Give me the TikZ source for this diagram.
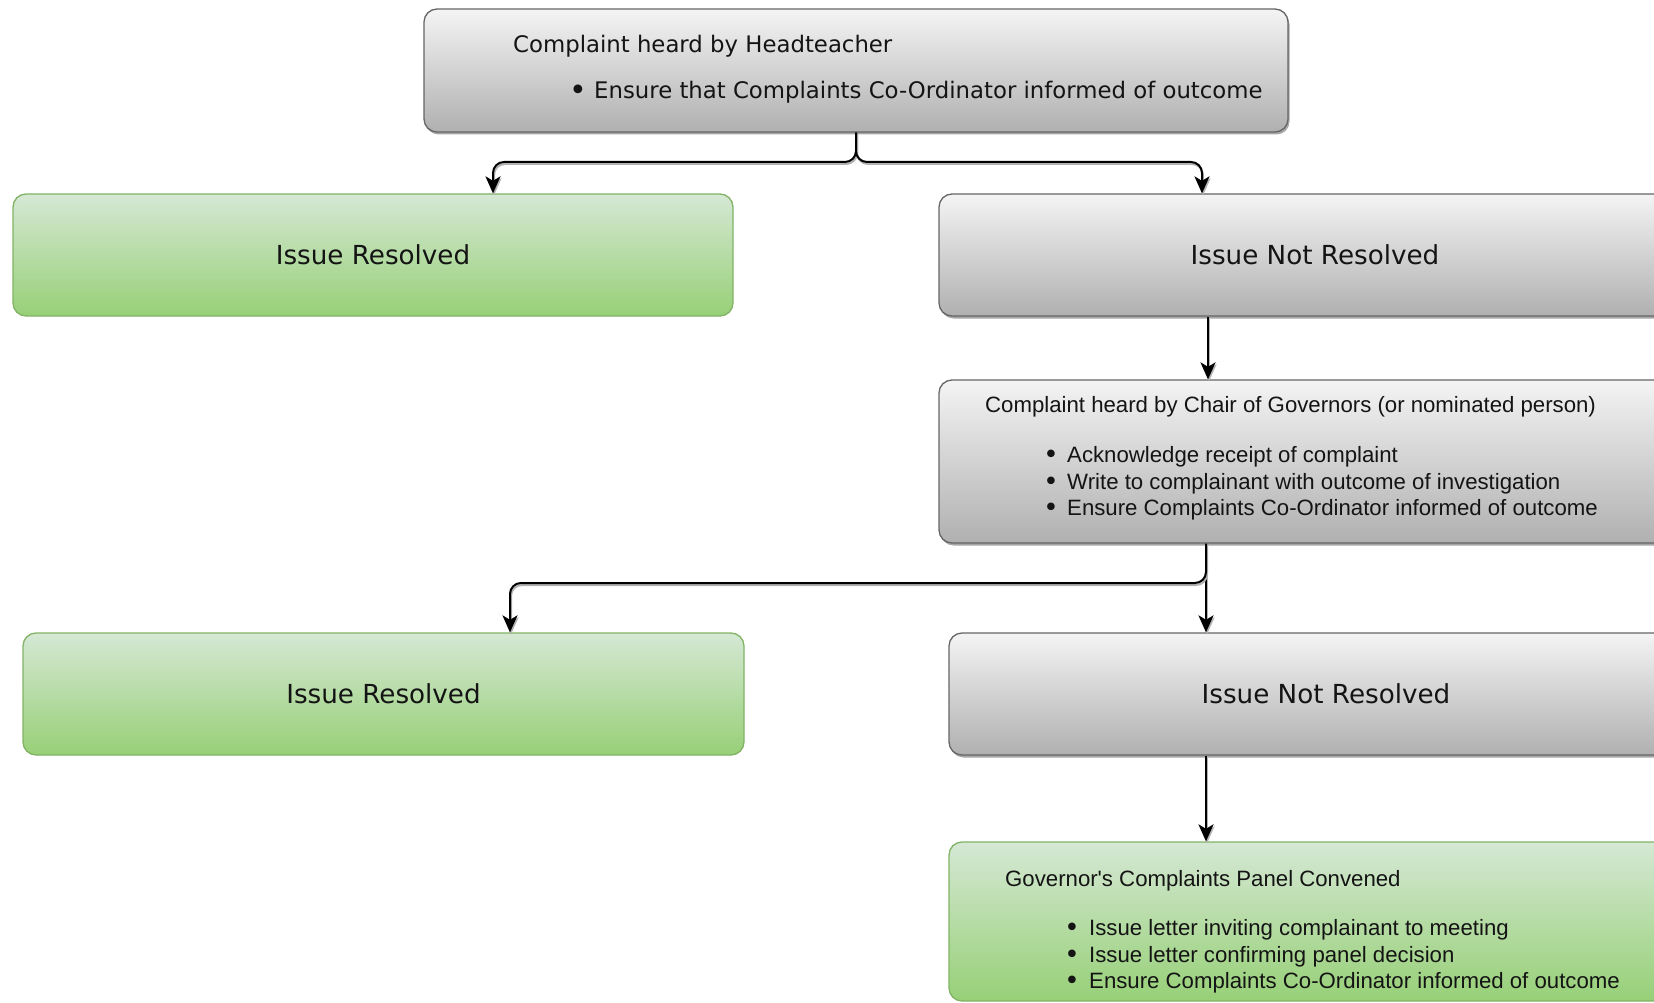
\documentclass[tikz,border=0pt]{standalone}
\usepackage{fontspec}
\newfontfamily\tahfont{DejaVu Sans}
\newfontfamily\narfont{Liberation Sans}
\usetikzlibrary{arrows.meta,shadows}
\definecolor{grayT}{HTML}{F4F4F4}
\definecolor{grayB}{HTML}{B0B0B0}
\definecolor{grayS}{HTML}{666666}
\definecolor{greenT}{HTML}{D5E8D4}
\definecolor{greenB}{HTML}{97D077}
\definecolor{greenS}{HTML}{82B366}
\definecolor{inkc}{HTML}{141414}
\begin{document}
\begin{tikzpicture}[x=1pt,y=-1pt,
  basebox/.style={rectangle, rounded corners=13pt, line width=1.3pt, inner sep=0pt, text=inkc},
  graybox/.style={basebox, draw=grayS, top color=grayT, bottom color=grayB,
    drop shadow={shadow xshift=1.5pt, shadow yshift=-2.5pt, opacity=0.35, fill=black}},
  greenbox/.style={basebox, draw=greenS, top color=greenT, bottom color=greenB},
  bigtxt/.style={font=\tahfont\fontsize{26.2}{30}\selectfont},
  toptxt/.style={inner sep=0pt, anchor=mid west, text=inkc, font=\tahfont\fontsize{22.8}{27}\selectfont},
  topdot/.style={inner sep=0pt, anchor=center, text=inkc, font=\tahfont\fontsize{30}{30}\selectfont},
  nartxt/.style={inner sep=0pt, anchor=mid west, text=inkc, font=\narfont\fontsize{22.2}{27}\selectfont},
  nardot/.style={inner sep=0pt, anchor=center, text=inkc, font=\tahfont\fontsize{26}{26}\selectfont},
  conn/.style={line width=2pt, draw=black, rounded corners=11pt,
    -{Stealth[length=17pt, width=15pt, inset=4.5pt]},
    preaction={draw=black!30, line width=2pt, transform canvas={shift={(1pt,-2pt)}}}}
]
\useasboundingbox (0,0) rectangle (1654,1003);
\clip (0,0) rectangle (1654,1003);
\fill[white] (0,0) rectangle (1654,1003);

% boxes
\node[graybox, minimum width=864pt, minimum height=123pt] (top) at (856,70.5) {};
\node[greenbox, bigtxt, minimum width=720pt, minimum height=122pt] (ir1) at (373,255) {Issue Resolved};
\node[graybox, bigtxt, minimum width=752pt, minimum height=122pt] (inr1) at (1315,255) {Issue Not Resolved};
\node[graybox, minimum width=752pt, minimum height=163pt] (chair) at (1315,461.5) {};
\node[greenbox, bigtxt, minimum width=721pt, minimum height=122pt] (ir2) at (383.5,694) {Issue Resolved};
\node[graybox, bigtxt, minimum width=754pt, minimum height=122pt] (inr2) at (1326,694) {Issue Not Resolved};
\node[greenbox, minimum width=754pt, minimum height=159pt] (gov) at (1326,921.5) {};

% top box text
\node[toptxt] (t1) at (513,50.5) {Complaint heard by Headteacher};
\node[topdot] (t2b) at (578,93) {•};
\node[toptxt] (t2) at (594,96.5) {Ensure that Complaints Co-Ordinator informed of outcome};

% chair box text
\node[nartxt] (c0) at (985,410.5) {Complaint heard by Chair of Governors (or nominated person)};
\node[nardot] (c1b) at (1051,457) {•};
\node[nartxt] (c1) at (1067,460.5) {Acknowledge receipt of complaint};
\node[nardot] (c2b) at (1051,484) {•};
\node[nartxt] (c2) at (1067,487.5) {Write to complainant with outcome of investigation};
\node[nardot] (c3b) at (1051,510) {•};
\node[nartxt] (c3) at (1067,513.5) {Ensure Complaints Co-Ordinator informed of outcome};

% governor box text
\node[nartxt] (g0) at (1005,884.5) {Governor's Complaints Panel Convened};
\node[nardot] (g1b) at (1072,930) {•};
\node[nartxt] (g1) at (1089,933.5) {Issue letter inviting complainant to meeting};
\node[nardot] (g2b) at (1072,957) {•};
\node[nartxt] (g2) at (1089,960.5) {Issue letter confirming panel decision};
\node[nardot] (g3b) at (1072,983) {•};
\node[nartxt] (g3) at (1089,986.5) {Ensure Complaints Co-Ordinator informed of outcome};

% connector x positions
\coordinate (xl1) at (493,0);
\coordinate (xr1) at (1202,0);
\coordinate (xc1) at (1208,0);
\coordinate (xc2) at (1206,0);
\coordinate (xl2) at (510,0);

\draw[conn] (top.south) -- (856,162) -| (ir1.north -| xl1);
\draw[conn] (top.south) -- (856,162) -| (inr1.north -| xr1);
\draw[conn] (inr1.south -| xc1) -- (chair.north -| xc1);
\draw[conn] (chair.south -| xc2) -- (inr2.north -| xc2);
\draw[conn] (chair.south -| xc2) -- (1206,583) -| (ir2.north -| xl2);
\draw[conn] (inr2.south -| xc2) -- (gov.north -| xc2);
\end{tikzpicture}
\end{document}
